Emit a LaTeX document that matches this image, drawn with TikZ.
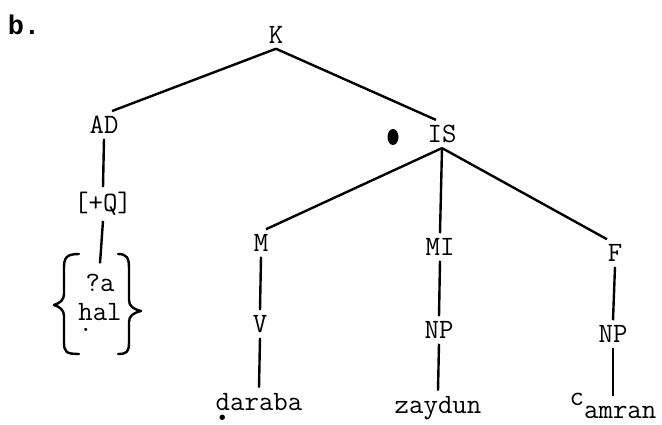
\documentclass[tikz,border=0pt]{standalone}
\usepackage{fontspec}
\newfontfamily\treefont{Latin Modern Mono}
\newfontfamily\headfont{Liberation Mono}
\usetikzlibrary{calc}
\newcommand\udot[2][1]{\makebox[0pt][l]{\makebox[0.525em]{\raisebox{-0.38em}{\scalebox{#1}{.}}}}#2}

\begin{document}
\begin{tikzpicture}[
  x=1pt, y=-1pt,
  lab/.style={
    inner sep=5pt,
    font=\treefont\fontsize{28}{29}\selectfont
  },
  branch/.style={line width=2.4pt},
  brace/.style={line width=2.4pt, line cap=round, line join=round}
]
\useasboundingbox (0,0) rectangle (662,425);

\node[lab, font=\headfont\bfseries\fontsize{27}{29}\selectfont] (part) at (24,25) {b.};

\node[lab] (K) at (276,35) {K};
\node[lab] (AD) at (104,125) {AD};
\node[lab] (plusq) at (103,204) {[+Q]};
\node[lab, align=center] (alt) at (100,303) {?a\\\udot{h}al};

\node[lab] (IS) at (442,134) {IS};
\fill (393,137) ellipse [x radius=5.5, y radius=8];

\node[lab] (M) at (261,243) {M};
\node[lab] (MI) at (440,247) {MI};
\node[lab] (F) at (615,253) {F};
\node[lab] (V) at (260,324) {V};
\node[lab] (NPm) at (439,330) {NP};
\node[lab] (NPf) at (613,334) {NP};

\node[lab, anchor=base] (daraba) at (259,410) {\udot[1.7]{d}araba};
\node[lab, anchor=base] (zaydun) at (438,413) {zaydun};
\node[lab, anchor=base] (amran) at (613,418) {\raisebox{.45em}{c}amran};

% braces round the two particles
\draw[brace] (79,254) .. controls (66,254) and (64,258) .. (64,268) -- (64,294)
  .. controls (64,300) and (60,303) .. (54,305)
  .. controls (60,307) and (64,310) .. (64,316) -- (64,342)
  .. controls (64,352) and (66,354) .. (79,354);
\draw[brace] (118,254) .. controls (127,254) and (129,258) .. (129,268) -- (129,300)
  .. controls (129,306) and (133,309) .. (141,311)
  .. controls (133,313) and (129,316) .. (129,322) -- (129,342)
  .. controls (129,352) and (127,354) .. (118,354);

\draw[branch] (K.south) -- ([xshift=8pt]AD.north);
\draw[branch] (K.south) -- ([xshift=-6pt]IS.north);
\draw[branch] (AD.south) -- (plusq.north);
\draw[branch] (plusq.south) -- ([yshift=6pt]alt.north);
\draw[branch] (IS.south) -- ([xshift=5pt]M.north);
\draw[branch] (IS.south) -- (MI.north);
\draw[branch] (IS.south) -- ([xshift=-8pt]F.north);
\draw[branch] (M.south) -- (V.north);
\draw[branch] (V.south) -- (daraba.north);
\draw[branch] (MI.south) -- (NPm.north);
\draw[branch] (NPm.south) -- (zaydun.north);
\draw[branch] (F.south) -- (NPf.north);
\draw[branch] (NPf.south) -- ([yshift=-8pt]amran.north);

\end{tikzpicture}
\end{document}
